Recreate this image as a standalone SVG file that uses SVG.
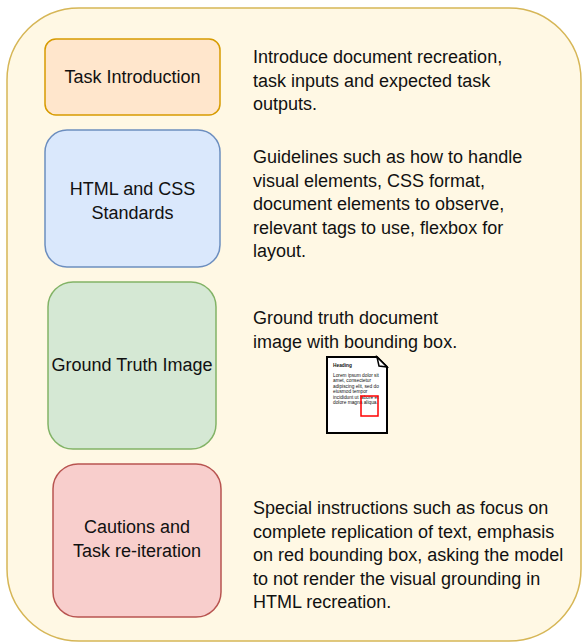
<svg xmlns="http://www.w3.org/2000/svg" width="582" height="643" viewBox="0 0 582 643">
<style>
text{font-family:"Liberation Sans",Arial,Helvetica,sans-serif;fill:#111}
.lbl{font-size:18px;text-anchor:middle}
.desc{font-size:18px}
.doc{font-size:4.8px}
.box{stroke-width:1.5}
</style>
<rect width="582" height="643" fill="#ffffff"/>
<g id="container">
<rect x="7" y="8" width="574" height="633" rx="72" ry="72" fill="#fff8e4" stroke="#d6b656" stroke-width="1.5"/>
</g>
<g id="connectors"></g>
<g id="task-introduction">
<rect class="box" x="45" y="39" width="175" height="76" rx="11" fill="#ffe6cc" stroke="#d79b00"/>
<text class="lbl" x="132.5" y="83">Task Introduction</text>
</g>
<g id="task-introduction-desc">
<text class="desc" x="253" y="63">Introduce document recreation,</text>
<text class="desc" x="253" y="86.5">task inputs and expected task</text>
<text class="desc" x="253" y="110">outputs.</text>
</g>
<g id="html-css">
<rect class="box" x="45" y="130" width="175" height="137" rx="22" fill="#dae8fc" stroke="#6c8ebf"/>
<text class="lbl" x="132.5" y="195">HTML and CSS</text>
<text class="lbl" x="132.5" y="219">Standards</text>
</g>
<g id="html-css-desc">
<text class="desc" x="253" y="163">Guidelines such as how to handle</text>
<text class="desc" x="253" y="186.5">visual elements, CSS format,</text>
<text class="desc" x="253" y="210">document elements to observe,</text>
<text class="desc" x="253" y="233.5">relevant tags to use, flexbox for</text>
<text class="desc" x="253" y="257">layout.</text>
</g>
<g id="ground-truth">
<rect class="box" x="48" y="282" width="168" height="167" rx="25" fill="#d5e8d4" stroke="#82b366"/>
<text class="lbl" x="132" y="371">Ground Truth Image</text>
</g>
<g id="ground-truth-desc">
<text class="desc" x="253" y="324">Ground truth document</text>
<text class="desc" x="253" y="347.5">image with bounding box.</text>
</g>
<g id="document-icon">
<path d="M327,357 H377 L387,367 V433 H327 Z" fill="#ffffff" stroke="#000" stroke-width="2" stroke-linejoin="miter"/>
<path d="M377,357 L387,367 L379,366 Z" fill="#ffffff" stroke="#000" stroke-width="1.5" stroke-linejoin="miter"/>
<text class="doc" x="333" y="367" font-weight="bold">Heading</text>
<text class="doc" x="333" y="376.5">Lorem ipsum dolor sit</text>
<text class="doc" x="333" y="382">amet, consectetur</text>
<text class="doc" x="333" y="387.5">adipiscing elit, sed do</text>
<text class="doc" x="333" y="393">eiusmod tempor</text>
<text class="doc" x="333" y="398.5">incididunt ut labore et</text>
<text class="doc" x="333" y="404">dolore magna aliqua.</text>
<rect x="361" y="396" width="17" height="20" fill="none" stroke="#ff0000" stroke-width="1.5"/>
</g>
<g id="cautions">
<rect class="box" x="53" y="464" width="168" height="153" rx="25" fill="#f8cecc" stroke="#b85450"/>
<text class="lbl" x="137" y="533">Cautions and</text>
<text class="lbl" x="137" y="557">Task re-iteration</text>
</g>
<g id="cautions-desc">
<text class="desc" x="253" y="514">Special instructions such as focus on</text>
<text class="desc" x="253" y="537.5">complete replication of text, emphasis</text>
<text class="desc" x="253" y="561">on red bounding box, asking the model</text>
<text class="desc" x="253" y="584.5">to not render the visual grounding in</text>
<text class="desc" x="253" y="608">HTML recreation.</text>
</g>
</svg>
